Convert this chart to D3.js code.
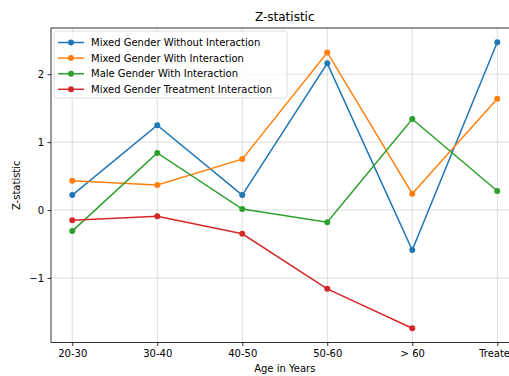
<!DOCTYPE html>
<html>
<head>
<meta charset="utf-8">
<script src="https://cdn.jsdelivr.net/npm/d3@7"></script>
<style>
  html, body { margin: 0; padding: 0; background: #fff; overflow: hidden; }
  svg { display: block; font-family: "DejaVu Sans", sans-serif; }
</style>
</head>
<body>
<svg id="chart" width="509" height="376"></svg>
<script>
// Age groups along the x axis
const categories = ["20-30", "30-40", "40-50", "50-60", "> 60", "Treated"];

// Z-statistic per age group for each model
const mixedWithout = [0.22, 1.25, 0.22, 2.16, -0.59, 2.47];
const mixedWith = [0.43, 0.37, 0.75, 2.32, 0.24, 1.64];
const maleWith = [-0.31, 0.84, 0.015, -0.18, 1.34, 0.28];
const mixedTreatment = [-0.15, -0.09, -0.35, -1.16, -1.74];

const seriesNames = [
  "Mixed Gender Without Interaction",
  "Mixed Gender With Interaction",
  "Male Gender With Interaction",
  "Mixed Gender Treatment Interaction"
];
const seriesColors = ["#1f77b4", "#ff7f0e", "#2ca02c", "#d62728"];
const yTicks = [-1, 0, 1, 2];

const series = [mixedWithout, mixedWith, maleWith, mixedTreatment].map((vals, i) => ({
  name: seriesNames[i],
  color: seriesColors[i],
  points: vals.map((v, j) => ({ i: j, v }))
}));

const svg = d3.select("#chart");
const plot = { left: 51, right: 518.5, top: 28, bottom: 342.5 };

// x: category index with 5% padding on each side
const n = categories.length - 1;
const x = d3.scaleLinear().domain([-0.05 * n, n + 0.05 * n]).range([plot.left, plot.right]);

const allVals = series.flatMap(s => s.points.map(p => p.v));
const yMin = d3.min(allVals), yMax = d3.max(allVals);
const pad = (yMax - yMin) * 0.05;
const y = d3.scaleLinear().domain([yMin - pad, yMax + pad]).range([plot.bottom, plot.top]);

// grid
const grid = svg.append("g");
grid.selectAll(".gx").data(categories.map((c, i) => i)).join("line")
  .attr("x1", d => x(d)).attr("x2", d => x(d))
  .attr("y1", plot.top).attr("y2", plot.bottom)
  .attr("stroke", "#b0b0b0").attr("stroke-opacity", 0.55).attr("stroke-width", 0.8);
grid.selectAll(".gy").data(yTicks).join("line")
  .attr("x1", plot.left).attr("x2", plot.right)
  .attr("y1", d => y(d)).attr("y2", d => y(d))
  .attr("stroke", "#b0b0b0").attr("stroke-opacity", 0.55).attr("stroke-width", 0.8);

// series lines and markers
const line = d3.line().x(d => x(d.i)).y(d => y(d.v));
const sg = svg.append("g").selectAll("g").data(series).join("g");
sg.append("path")
  .attr("d", d => line(d.points))
  .attr("fill", "none").attr("stroke", d => d.color).attr("stroke-width", 1.5);
sg.selectAll("circle").data(d => d.points.map(p => ({ ...p, color: d.color }))).join("circle")
  .attr("cx", d => x(d.i)).attr("cy", d => y(d.v)).attr("r", 3)
  .attr("fill", d => d.color);

// axes
const xAxis = d3.axisBottom(x).tickValues(categories.map((c, i) => i))
  .tickFormat(i => categories[i]).tickSize(3.5).tickPadding(3.5);
const yAxis = d3.axisLeft(y).tickValues(yTicks)
  .tickFormat(d => d < 0 ? "\u2212" + Math.abs(d) : d).tickSize(3.5).tickPadding(3.5);

const gx = svg.append("g").attr("transform", `translate(0,${plot.bottom})`).call(xAxis);
const gy = svg.append("g").attr("transform", `translate(${plot.left},0)`).call(yAxis);
[gx, gy].forEach(g => {
  g.select(".domain").remove();
  g.selectAll(".tick line").attr("stroke", "#000").attr("stroke-width", 0.8);
  g.selectAll(".tick text").attr("font-size", 10).attr("fill", "#000")
    .attr("font-family", "DejaVu Sans, sans-serif");
});

// spines
svg.append("rect")
  .attr("x", plot.left).attr("y", plot.top)
  .attr("width", plot.right - plot.left).attr("height", plot.bottom - plot.top)
  .attr("fill", "none").attr("stroke", "#000").attr("stroke-width", 0.8);

// title and axis labels
svg.append("text").attr("x", (plot.left + plot.right) / 2).attr("y", 21)
  .attr("text-anchor", "middle").attr("font-size", 12).text("Z-statistic");
svg.append("text").attr("x", (plot.left + plot.right) / 2).attr("y", 372)
  .attr("text-anchor", "middle").attr("font-size", 10).text("Age in Years");
svg.append("text")
  .attr("transform", `translate(20,${(plot.top + plot.bottom) / 2}) rotate(-90)`)
  .attr("text-anchor", "middle").attr("font-size", 10).text("Z-statistic");

// legend
const lg = svg.append("g").attr("transform", "translate(54,31)");
lg.append("rect").attr("width", 233).attr("height", 67).attr("rx", 2.5)
  .attr("fill", "#fff").attr("fill-opacity", 0.8)
  .attr("stroke", "#d6d6d6").attr("stroke-width", 0.8);
const items = lg.selectAll(".item").data(series).join("g")
  .attr("transform", (d, i) => `translate(0,${11.5 + i * 15.6})`);
items.append("line").attr("x1", 4).attr("x2", 30).attr("stroke", d => d.color).attr("stroke-width", 1.5);
items.append("circle").attr("cx", 17).attr("r", 3).attr("fill", d => d.color);
items.append("text").attr("x", 37).attr("dy", "0.35em").attr("font-size", 10).text(d => d.name);
</script>
</body>
</html>
